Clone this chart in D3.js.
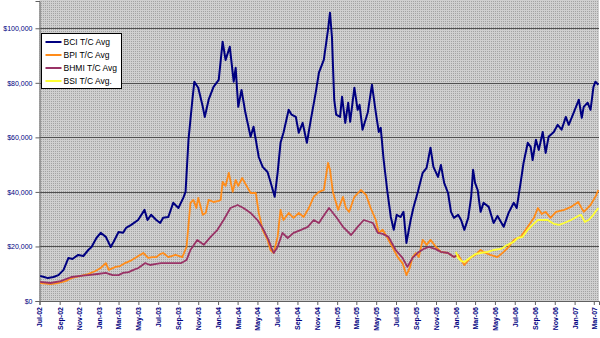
<!DOCTYPE html>
<html>
<head>
<meta charset="utf-8">
<script src="https://cdn.jsdelivr.net/npm/d3@7"></script>
<style>
  html, body { margin: 0; padding: 0; background: #fff; }
  svg { display: block; font-family: Arial, "Liberation Sans", sans-serif; }
</style>
</head>
<body>
<svg id="chart" width="600" height="338"></svg>
<script>
// Weekly time-charter averages (USD/day), Jul 2002 – Mar 2007
const seriesNames = ["BCI T/C Avg", "BPI T/C Avg", "BHMI T/C Avg", "BSI T/C Avg."];
const seriesColors = ["#000080", "#ff8c1a", "#993366", "#ffff33"];

const bci = [
  ["2002-07-03",9200],["2002-07-15",8800],["2002-07-27",8400],["2002-08-13",8800],["2002-08-28",9500],
  ["2002-09-13",11400],["2002-09-28",15800],["2002-10-10",15400],["2002-10-28",16900],["2002-11-13",16500],
  ["2002-11-28",18700],["2002-12-08",19800],["2002-12-23",23100],["2003-01-05",25000],["2003-01-21",23500],
  ["2003-02-05",19800],["2003-02-14",21700],["2003-03-01",25300],["2003-03-15",25000],["2003-03-24",26800],
  ["2003-04-09",27900],["2003-04-30",29700],["2003-05-20",33400],["2003-05-29",29700],["2003-06-09",31600],
  ["2003-06-25",29700],["2003-07-07",28600],["2003-07-16",30500],["2003-08-01",30800],["2003-08-16",36000],
  ["2003-09-01",34100],["2003-09-16",37800],["2003-09-23",40000],["2003-10-02",59100],["2003-10-14",73800],
  ["2003-10-20",80400],["2003-11-01",78200],["2003-11-15",71200],["2003-11-21",67500],["2003-12-03",73800],
  ["2003-12-18",78500],["2004-01-03",81100],["2004-01-15",95100],["2004-01-24",88400],["2004-02-06",93200],
  ["2004-02-18",80400],["2004-02-24",85500],["2004-03-03",71200],["2004-03-13",77400],["2004-03-25",69000],
  ["2004-04-10",60200],["2004-04-19",63900],["2004-05-05",52800],["2004-05-17",49200],["2004-06-01",47300],
  ["2004-06-10",43700],["2004-06-23",38200],["2004-07-02",47000],["2004-07-11",58000],["2004-07-20",61700],
  ["2004-08-05",70100],["2004-08-14",68300],["2004-08-27",67500],["2004-09-05",61700],["2004-09-17",65300],
  ["2004-09-30",58000],["2004-10-12",66400],["2004-10-27",76300],["2004-11-06",83700],["2004-11-21",88400],
  ["2004-12-04",99500],["2004-12-10",105700],["2004-12-16",96900],["2004-12-23",73800],["2004-12-29",68300],
  ["2005-01-10",67500],["2005-01-16",74900],["2005-01-26",65300],["2005-02-04",72700],["2005-02-10",65700],
  ["2005-02-23",78200],["2005-03-05",70100],["2005-03-11",71900],["2005-03-20",62800],["2005-04-05",69000],
  ["2005-04-18",79300],["2005-04-30",69000],["2005-05-09",62000],["2005-05-15",63500],["2005-05-24",51700],
  ["2005-06-05",39600],["2005-06-15",30800],["2005-06-24",26100],["2005-07-03",31600],["2005-07-15",30800],
  ["2005-07-24",32700],["2005-08-02",21300],["2005-08-15",29700],["2005-08-24",34500],["2005-09-06",40000],
  ["2005-09-21",47000],["2005-10-03",48800],["2005-10-15",56200],["2005-10-24",49200],["2005-11-07",45500],
  ["2005-11-16",49900],["2005-11-26",43300],["2005-12-08",39600],["2005-12-17",32700],["2005-12-26",30500],
  ["2006-01-08",31600],["2006-01-17",29700],["2006-01-27",26100],["2006-02-08",30500],["2006-02-17",38200],
  ["2006-02-23",48100],["2006-03-01",43300],["2006-03-09",40700],["2006-03-18",32700],["2006-03-27",36000],
  ["2006-04-12",34500],["2006-04-27",28600],["2006-05-09",31200],["2006-05-28",27200],["2006-06-12",32300],
  ["2006-06-28",36000],["2006-07-07",34100],["2006-07-19",43300],["2006-07-28",50600],["2006-08-10",58000],
  ["2006-08-19",56500],["2006-08-25",51700],["2006-09-04",59100],["2006-09-13",55400],["2006-09-25",62000],
  ["2006-10-04",54300],["2006-10-13",60200],["2006-10-29",62000],["2006-11-10",64600],["2006-11-22",62800],
  ["2006-12-05",67500],["2006-12-14",64600],["2006-12-29",69000],["2007-01-14",73800],["2007-01-23",67200],
  ["2007-01-29",71200],["2007-02-10",72700],["2007-02-19",70100],["2007-02-28",78500],["2007-03-06",80400],
  ["2007-03-15",79300]
];

const bpi = [
  ["2002-07-03",6600],["2002-08-04",6200],["2002-08-28",6600],["2002-09-19",7300],["2002-10-07",8400],
  ["2002-11-04",9200],["2002-11-28",9900],["2002-12-20",11000],["2003-01-05",12100],["2003-01-21",13900],
  ["2003-01-30",11400],["2003-02-20",12500],["2003-03-06",12800],["2003-03-21",13900],["2003-04-06",14700],
  ["2003-04-21",15800],["2003-05-06",16900],["2003-05-16",17600],["2003-05-31",15800],["2003-06-13",16100],
  ["2003-06-25",16100],["2003-07-07",17200],["2003-07-16",17600],["2003-08-01",16100],["2003-08-23",16900],
  ["2003-09-13",16100],["2003-09-26",19800],["2003-10-08",36000],["2003-10-17",37100],["2003-10-26",34100],
  ["2003-11-01",37800],["2003-11-15",31600],["2003-11-24",32300],["2003-12-03",37100],["2003-12-18",36300],
  ["2004-01-03",36700],["2004-01-09",37100],["2004-01-15",43700],["2004-01-24",42200],["2004-02-03",47000],
  ["2004-02-15",40000],["2004-02-24",44400],["2004-03-03",42200],["2004-03-15",45100],["2004-04-01",41500],
  ["2004-04-10",39600],["2004-04-26",39600],["2004-05-05",32300],["2004-05-17",26100],["2004-06-01",22400],
  ["2004-06-10",18700],["2004-06-20",17600],["2004-07-02",23500],["2004-07-11",33400],["2004-07-20",29700],
  ["2004-08-05",32300],["2004-08-20",30500],["2004-09-05",32300],["2004-09-20",30800],["2004-10-06",34100],
  ["2004-10-21",38200],["2004-11-06",40000],["2004-11-21",40700],["2004-12-04",50600],["2004-12-10",48100],
  ["2004-12-19",40000],["2005-01-04",33400],["2005-01-19",38200],["2005-01-28",34100],["2005-02-07",32700],
  ["2005-02-23",38200],["2005-03-15",40700],["2005-03-31",38900],["2005-04-14",34100],["2005-04-30",29700],
  ["2005-05-09",25000],["2005-05-21",26100],["2005-06-05",23100],["2005-06-20",19800],["2005-07-06",16100],
  ["2005-07-21",13900],["2005-08-02",9500],["2005-08-12",12100],["2005-08-21",16100],["2005-08-31",17600],
  ["2005-09-09",16100],["2005-09-21",22400],["2005-10-03",20600],["2005-10-15",22400],["2005-11-01",19800],
  ["2005-11-16",18000],["2005-12-08",17600],["2005-12-26",16100],["2006-01-08",16900],["2006-01-27",13200],
  ["2006-02-17",16100],["2006-03-02",16900],["2006-03-18",18700],["2006-04-02",17600],["2006-04-17",16900],
  ["2006-05-09",16100],["2006-05-28",18000],["2006-06-12",19800],["2006-06-28",22400],["2006-07-19",23500],
  ["2006-08-10",27200],["2006-08-29",30500],["2006-09-10",34100],["2006-09-22",31900],["2006-10-04",32700],
  ["2006-10-19",30500],["2006-11-05",32700],["2006-11-30",33400],["2006-12-21",34500],["2007-01-12",36300],
  ["2007-01-29",32700],["2007-02-19",35200],["2007-03-06",38200],["2007-03-15",40700]
];

const bhmi = [
  ["2002-07-03",7000],["2002-08-04",6600],["2002-09-04",7300],["2002-10-07",8800],["2002-11-04",9200],
  ["2002-11-28",9500],["2002-12-26",9900],["2003-01-21",10300],["2003-02-11",9500],["2003-03-01",9500],
  ["2003-03-15",10300],["2003-04-01",10600],["2003-04-16",11400],["2003-05-01",12100],["2003-05-22",13900],
  ["2003-06-06",13200],["2003-06-25",13600],["2003-07-10",13900],["2003-08-10",13900],["2003-09-10",13900],
  ["2003-09-26",15000],["2003-10-08",18700],["2003-10-29",22400],["2003-11-18",20600],["2003-12-09",23500],
  ["2003-12-30",26100],["2004-01-18",29700],["2004-02-08",34100],["2004-03-01",35200],["2004-03-19",34100],
  ["2004-04-10",32300],["2004-05-01",29700],["2004-05-20",26100],["2004-06-04",22400],["2004-06-13",19500],
  ["2004-06-20",17600],["2004-07-02",19800],["2004-07-17",25000],["2004-08-02",23100],["2004-08-20",25000],
  ["2004-09-12",26100],["2004-10-03",27200],["2004-10-21",29700],["2004-11-06",28600],["2004-11-18",30800],
  ["2004-12-07",34100],["2004-12-29",30800],["2005-01-19",27200],["2005-02-13",24200],["2005-03-05",27200],
  ["2005-03-24",29700],["2005-04-21",28600],["2005-05-06",25000],["2005-05-21",24600],["2005-06-08",23500],
  ["2005-06-30",18700],["2005-07-21",15800],["2005-08-05",12500],["2005-08-21",15800],["2005-09-09",18000],
  ["2005-09-24",19100],["2005-10-10",19800],["2005-10-29",19100],["2005-11-16",18000],["2005-12-08",17600],
  ["2005-12-26",16100],["2006-01-05",16900]
];

const bsi = [
  ["2006-01-01",18000],["2006-01-08",15800],["2006-01-17",14700],["2006-01-27",14300],["2006-02-17",16100],
  ["2006-03-02",17200],["2006-03-18",17600],["2006-04-09",18000],["2006-04-27",18700],["2006-05-19",19100],
  ["2006-06-09",20600],["2006-06-28",21700],["2006-07-10",23100],["2006-07-25",23500],["2006-08-10",26100],
  ["2006-08-25",27900],["2006-09-10",29700],["2006-09-25",29700],["2006-10-10",29700],["2006-10-29",28300],
  ["2006-11-14",27900],["2006-11-30",28600],["2006-12-21",29700],["2007-01-12",31200],["2007-01-21",31600],
  ["2007-02-01",29000],["2007-02-13",29700],["2007-02-25",31200],["2007-03-06",32700],["2007-03-15",34100]
];

const yTicks = [0, 20000, 40000, 60000, 80000, 100000];
const xTickLabels = ["Jul-02","Sep-02","Nov-02","Jan-03","Mar-03","May-03","Jul-03","Sep-03","Nov-03",
  "Jan-04","Mar-04","May-04","Jul-04","Sep-04","Nov-04","Jan-05","Mar-05","May-05","Jul-05","Sep-05",
  "Nov-05","Jan-06","Mar-06","May-06","Jul-06","Sep-06","Nov-06","Jan-07","Mar-07"];

const parse = d3.timeParse("%Y-%m-%d");
const parseTick = d3.timeParse("%b-%y");
const allSeries = [bci, bpi, bhmi, bsi].map(s => s.map(([d, v]) => ({ date: parse(d), value: v })));

const svg = d3.select("#chart");
const plot = { left: 39.5, right: 599, top: 0, bottom: 301 };

const x = d3.scaleTime()
  .domain([parse("2002-07-01"), parse("2007-03-17")])
  .range([plot.left, plot.right]);
const y = d3.scaleLinear()
  .domain([0, 110000])
  .range([plot.bottom, 1]);

// Dotted grey plot-area fill
const defs = svg.append("defs");
const pat = defs.append("pattern")
  .attr("id", "dots").attr("patternUnits", "userSpaceOnUse")
  .attr("width", 2).attr("height", 2);
pat.append("rect").attr("width", 2).attr("height", 2).attr("fill", "#cfcfcf");
pat.append("rect").attr("x", 1).attr("y", 1).attr("width", 1).attr("height", 1).attr("fill", "#a2a2a2");

svg.append("rect")
  .attr("x", plot.left).attr("y", plot.top)
  .attr("width", plot.right - plot.left).attr("height", plot.bottom - plot.top)
  .attr("fill", "url(#dots)");

// Horizontal gridlines
svg.append("g")
  .selectAll("line")
  .data(yTicks.filter(t => t > 0))
  .join("line")
  .attr("x1", plot.left).attr("x2", plot.right)
  .attr("y1", d => Math.round(y(d)) + 0.5).attr("y2", d => Math.round(y(d)) + 0.5)
  .attr("stroke", "#505050").attr("stroke-width", 1);

// Y axis
const yAxis = svg.append("g")
  .attr("transform", `translate(${plot.left},0)`)
  .call(d3.axisLeft(y).tickValues(yTicks).tickSize(4).tickPadding(3)
    .tickFormat(d => "$" + d3.format(",")(d)));
yAxis.select(".domain").attr("stroke", "#606060");
yAxis.selectAll(".tick line").attr("stroke", "#606060");
yAxis.selectAll("text")
  .attr("fill", "#000080").attr("font-size", "7px")
  .attr("font-family", "Arial, 'Liberation Sans', sans-serif");

// X axis
const xTicks = xTickLabels.map(parseTick);
const xAxis = svg.append("g")
  .attr("transform", `translate(0,${plot.bottom})`)
  .call(d3.axisBottom(x).tickValues(xTicks).tickSize(4)
    .tickFormat(d3.timeFormat("%b-%y")));
xAxis.select(".domain").attr("stroke", "#606060");
xAxis.selectAll(".tick line").attr("stroke", "#606060");
xAxis.selectAll("text")
  .attr("fill", "#000080").attr("font-size", "7px").attr("font-weight", "bold")
  .attr("font-family", "Arial, 'Liberation Sans', sans-serif")
  .attr("text-anchor", "end")
  .attr("transform", "rotate(-90)")
  .attr("x", -6).attr("y", 0).attr("dy", "0.35em");

// Series lines
const line = d3.line().x(d => x(d.date)).y(d => y(d.value));
svg.append("g")
  .selectAll("path")
  .data(allSeries)
  .join("path")
  .attr("d", line)
  .attr("fill", "none")
  .attr("stroke", (d, i) => seriesColors[i])
  .attr("stroke-width", (d, i) => i === 0 ? 2 : 1.8)
  .attr("stroke-linejoin", "round");

// Legend
const legend = svg.append("g").attr("transform", "translate(41.5,33.5)");
legend.append("rect")
  .attr("width", 80).attr("height", 55)
  .attr("fill", "#fff").attr("stroke", "#000").attr("stroke-width", 1);
const items = legend.selectAll("g.item")
  .data(seriesNames)
  .join("g")
  .attr("class", "item")
  .attr("transform", (d, i) => `translate(0,${8.5 + i * 13})`);
items.append("line")
  .attr("x1", 4).attr("x2", 20)
  .attr("stroke", (d, i) => seriesColors[i])
  .attr("stroke-width", 2);
items.append("text")
  .attr("x", 22).attr("dy", "0.35em")
  .attr("font-size", "8.5px").attr("fill", "#000")
  .attr("font-family", "Arial, 'Liberation Sans', sans-serif")
  .text(d => d);
</script>
</body>
</html>
